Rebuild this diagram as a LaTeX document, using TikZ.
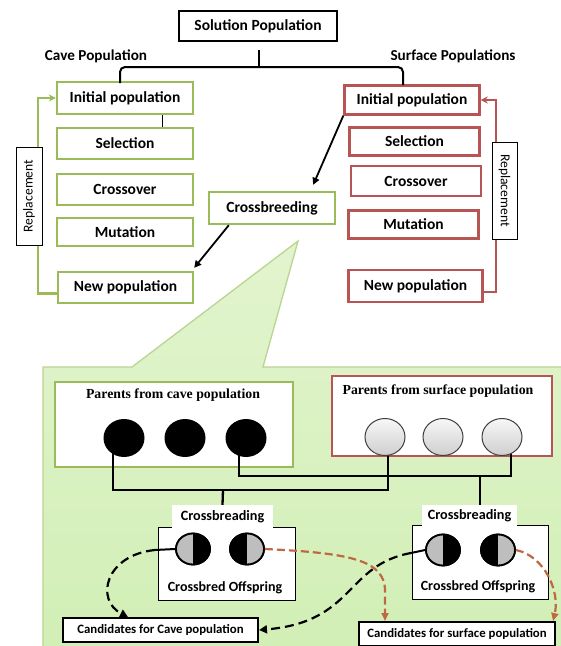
\documentclass[tikz,border=0pt]{standalone}
\usepackage{fontspec}
\setmainfont{Carlito}
\newfontfamily\serifb{Liberation Serif}
\usetikzlibrary{shapes.geometric,arrows.meta,calc}
\definecolor{cgreen}{RGB}{155,187,89}
\definecolor{cred}{RGB}{183,84,84}
\definecolor{ptop}{RGB}{226,244,206}
\definecolor{pbot}{RGB}{210,239,182}
\definecolor{pborder}{RGB}{186,212,146}
\definecolor{cbrown}{RGB}{192,104,66}
\definecolor{cgrey}{RGB}{190,190,190}
\pgfdeclarelayer{bg}
\pgfsetlayers{bg,main}
\newcommand\offdisc[4]{%
  \node[offc] (#1) at (#2) {};
  \begin{scope}
    \clip ([xshift=-20pt,yshift=20pt]#1.center) rectangle ([yshift=-20pt]#1.center);
    \fill[#3] (#1.center) ellipse [x radius=17pt, y radius=15.5pt];
  \end{scope}
  \begin{scope}
    \clip ([xshift=20pt,yshift=20pt]#1.center) rectangle ([yshift=-20pt]#1.center);
    \fill[#4] (#1.center) ellipse [x radius=17pt, y radius=15.5pt];
  \end{scope}
  \node[offc] at (#1.center) {};
}
\begin{document}
\begin{tikzpicture}[x=1pt,y=-1pt,
  box/.style={draw, line width=2.4pt, fill=white, inner sep=0pt, font=\bfseries\fontsize{15.5}{17}\selectfont},
  gbox/.style={box, draw=cgreen, line width=2.4pt},
  rbox/.style={box, draw=cred, line width=2.4pt},
  lbl/.style={inner sep=0pt, font=\bfseries\fontsize{15.2}{17}\selectfont},
  repl/.style={draw=black, line width=0.8pt, fill=white, inner sep=0pt, minimum height=26pt, font=\fontsize{13.6}{15}\selectfont},
  brace/.style={draw=black, line width=2pt, rounded corners=5pt},
  arr/.style={draw=black, line width=1.8pt, -{Triangle[length=7pt,width=7pt]}},
  gloop/.style={draw=cgreen, line width=2.3pt, -{Stealth[length=7pt,width=7pt]}},
  rloop/.style={draw=cred, line width=2.3pt, -{Stealth[length=7pt,width=7pt]}},
  pbox/.style={fill=white, line width=2.3pt, inner sep=0pt},
  ptitle/.style={inner sep=0pt, font=\serifb\bfseries\fontsize{13.8}{15}\selectfont},
  pblk/.style={ellipse, fill=black, minimum width=41pt, minimum height=38pt, inner sep=0pt},
  pbal/.style={ellipse, draw=black!75, line width=1pt, minimum width=40pt, minimum height=37pt, inner sep=0pt, top color=gray!6, bottom color=gray!38},
  conn/.style={draw=black, line width=2.3pt},
  offbox/.style={draw=black, line width=0.9pt, fill=white, inner sep=0pt},
  offlab/.style={fill=white, inner sep=0pt, font=\bfseries\fontsize{14.2}{16}\selectfont},
  offtxt/.style={inner sep=0pt, font=\bfseries\fontsize{14}{16}\selectfont},
  offc/.style={ellipse, draw=black, line width=1.8pt, minimum width=34pt, minimum height=31pt, inner sep=0pt},
  stub/.style={draw=black, line width=2pt},
  dk/.style={draw=black, line width=2.2pt, dash pattern=on 9pt off 5pt, -{Triangle[length=8pt,width=8pt]}},
  db/.style={draw=cbrown, line width=2.2pt, dash pattern=on 8pt off 4pt, -{Triangle[length=8pt,width=7pt]}},
  cand/.style={draw=black, line width=2pt, fill=white, inner sep=0pt, minimum height=24pt, font=\bfseries\fontsize{12.8}{14}\selectfont}
]
\useasboundingbox (0,0) rectangle (561,646);

% ---------- top part ----------
\node[box, minimum width=158pt, minimum height=30pt] (sol) at (258,26) {Solution Population};
\node[lbl] (cavet) at (96,56) {Cave Population};
\node[lbl] (surft) at (453,56) {Surface Populations};

\node[gbox, minimum width=136pt, minimum height=32pt] (ginit) at (125,98) {Initial population};
\node[gbox, minimum width=136pt, minimum height=31pt] (gsel) at (125,143.5) {Selection};
\node[gbox, minimum width=136pt, minimum height=31pt] (gcross) at (125,189.5) {Crossover};
\node[gbox, minimum width=136pt, minimum height=28pt] (gmut) at (125,232) {Mutation};
\node[gbox, minimum width=135pt, minimum height=31pt] (gnew) at (125.5,287.5) {New population};

\node[rbox, minimum width=135pt, minimum height=29pt] (rinit) at (412,100) {Initial population};
\node[rbox, minimum width=130pt, minimum height=28pt] (rsel) at (414.5,141.5) {Selection};
\node[rbox, minimum width=130pt, minimum height=30pt] (rcross) at (416,181) {Crossover};
\node[rbox, minimum width=130pt, minimum height=28pt] (rmut) at (413.5,224.5) {Mutation};
\node[rbox, minimum width=134pt, minimum height=32pt] (rnew) at (415.5,286) {New population};

\node[gbox, minimum width=126pt, minimum height=32pt] (cross) at (272,208) {Crossbreeding};

% brace
\coordinate (bl) at (120,83);
\coordinate (br) at (403,85);
\coordinate (bm) at (259,67);
\coordinate (bt) at (259,50);
\draw[brace] (bl) |- (bm) -| (br);
\draw[brace] (bm) -- (bt);

% thin tick
\coordinate (tx) at (162,0);
\draw[black, line width=0.8pt] (ginit.south -| tx) -- (gsel.north -| tx);

% black arrows
\draw[arr] (rinit.south west) -- ([xshift=-23pt,yshift=6pt]cross.north east);
\draw[arr] ([xshift=21pt]cross.south west) -- ([yshift=3pt]gnew.north east);

% replacement loops
\coordinate (gl) at (38,0);
\coordinate (rl) at (496,0);
\draw[gloop] ([yshift=-6pt]gnew.west) -| (ginit.west -| gl) -- (ginit.west);
\draw[rloop] ([yshift=-6pt]rnew.east) -| (rinit.east -| rl) -- (rinit.east);
\node[repl, rotate=90, minimum width=98pt] (grep) at (29,196) {Replacement};
\node[repl, rotate=-90, minimum width=97pt, minimum height=25pt] (rrep) at (504.5,190.5) {Replacement};

% ---------- lower panel ----------
\node[ptitle] (pct) at (173,395) {Parents from cave population};
\node[ptitle] (pst) at (438,391) {Parents from surface population};
\node[pblk] (pc1) at (124,438) {};
\node[pblk] (pc2) at (185,438) {};
\node[pblk] (pc3) at (246,438) {};
\node[pbal] (ps1) at (385,437) {};
\node[pbal] (ps2) at (443,437) {};
\node[pbal] (ps3) at (502,437) {};

\coordinate (jA) at (223,490);
\coordinate (jB) at (480,476);

\begin{pgfonlayer}{bg}
\fill[white] (0,0) rectangle (561,646);
\path[top color=ptop, bottom color=pbot] (43,647) -- (43,367) -- (132,367) -- (298,241) -- (263,367) -- (562,367) -- (562,647) -- cycle;
\draw[pborder, line width=1.3pt] (43,647) -- (43,367) -- (132,367) -- (298,241) -- (263,367) -- (562,367);
\node[pbox, draw=cgreen, minimum width=238pt, minimum height=85pt] (pcave) at (174,424.5) {};
\node[pbox, draw=cred, minimum width=220pt, minimum height=80pt] (psurf) at (442,416) {};
\draw[conn] ([xshift=-11pt]pc1.center) |- (jA) -| ([xshift=3pt]ps1.center);
\draw[conn] ([xshift=-7pt]pc3.center) |- (jB) -| ([xshift=9pt]ps3.center);
\end{pgfonlayer}

% offspring boxes
\node[offbox, minimum width=137pt, minimum height=73pt] (off1) at (226.5,563.5) {};
\node[offbox, minimum width=136pt, minimum height=74pt] (off2) at (480,562) {};
\node[offlab, minimum width=101pt, minimum height=23pt] (lab1) at (222.5,516.5) {Crossbreading};
\node[offlab, minimum width=95pt, minimum height=21pt] (lab2) at (469.5,515.5) {Crossbreading};
\draw[conn] (jA) -- (lab1.north);
\draw[conn] (jB) -- (jB |- lab2.north);
\node[offtxt] (ot1) at (225,588) {Crossbred Offspring};
\node[offtxt] (ot2) at (478,587) {Crossbred Offspring};

\offdisc{o1}{193,549}{cgrey}{black}
\offdisc{o2}{247,549}{black}{cgrey}
\offdisc{o3}{443,550}{cgrey}{black}
\offdisc{o4}{498,550}{black}{cgrey}

% candidates
\node[cand, minimum width=195pt] (cc) at (160.5,630) {Candidates for Cave population};
\node[cand, minimum width=196pt] (sc) at (457,634) {Candidates for surface population};

% dashed connectors
\coordinate (s1) at (155,550);
\coordinate (s3) at (411,553);
\coordinate (e1) at (128,0);
\coordinate (e3) at (385,0);
\draw[stub] (o1.west) -- (s1);
\draw[dk] (s1) .. controls (105,555) and (95,600) .. (cc.north -| e1);
\draw[stub] (o3.west) -- (s3);
\draw[dk] (s3) .. controls (345,565) and (355,622) .. (cc.east);
\draw[db] (o2.east) .. controls (350,553) and (385,560) .. ([yshift=30pt]sc.north -| e3) -- (sc.north -| e3);
\draw[db] (o4.east) .. controls (545,556) and (560,592) .. ([xshift=-3pt]sc.north east);
\end{tikzpicture}
\end{document}
